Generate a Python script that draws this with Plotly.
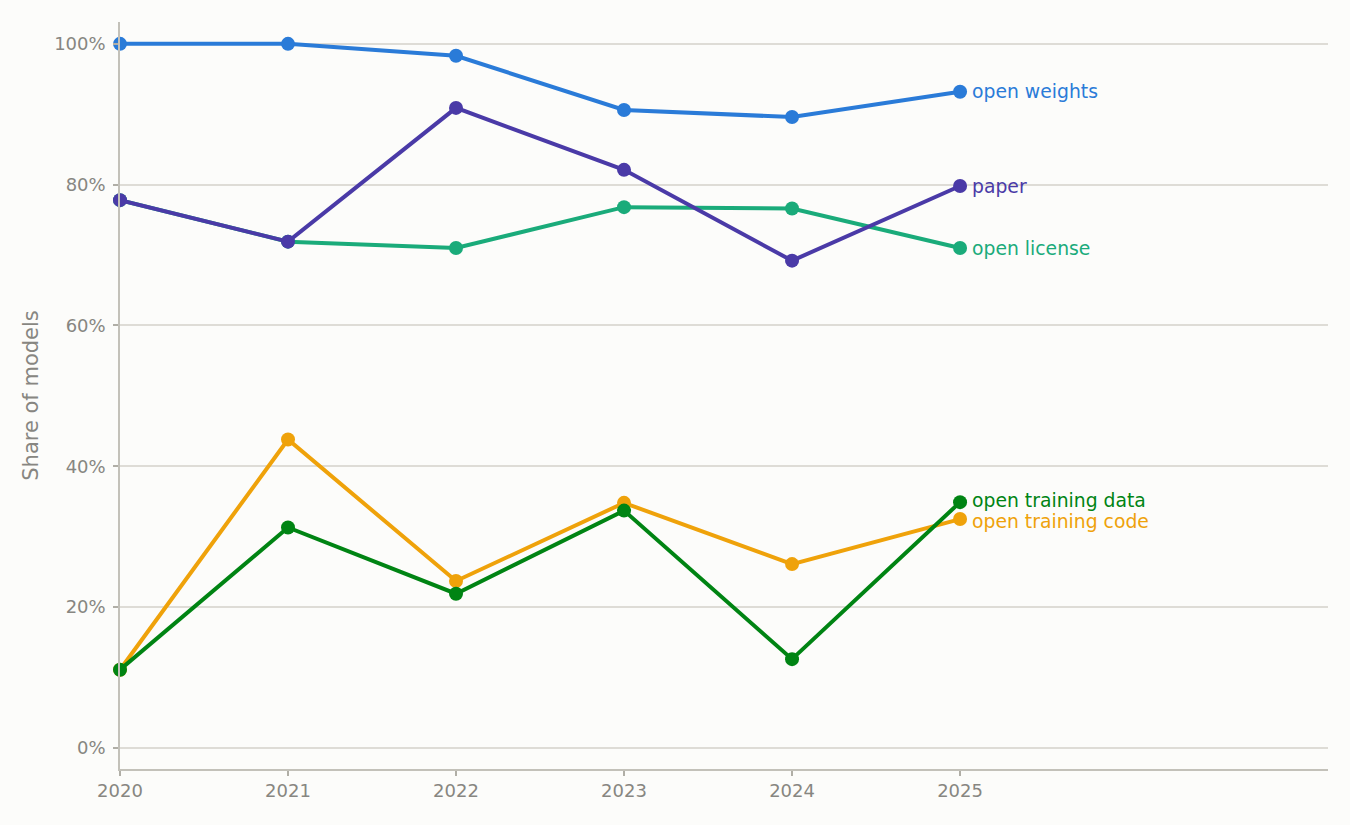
import plotly.graph_objects as go

years = [2020, 2021, 2022, 2023, 2024, 2025]
open_weights = [100.0, 100.0, 98.3, 90.6, 89.6, 93.2]
paper = [77.8, 71.9, 90.9, 82.1, 69.2, 79.8]
open_license = [77.8, 71.9, 71.0, 76.8, 76.6, 71.0]
open_training_code = [11.1, 43.8, 23.7, 34.8, 26.1, 32.5]
open_training_data = [11.1, 31.3, 21.9, 33.7, 12.6, 34.9]

series = [
    ("open weights", open_weights, "#2a7bd8", 0),
    ("open license", open_license, "#1aab7a", 0),
    ("paper", paper, "#4a3aa7", 0),
    ("open training code", open_training_code, "#efa20a", -2),
    ("open training data", open_training_data, "#008413", 2),
]

y_ticks = [0, 20, 40, 60, 80, 100]
y_tick_text = [f"{v}%" for v in y_ticks]

FONT = "DejaVu Sans"
fig = go.Figure()
for name, vals, color, ysh in series:
    fig.add_trace(go.Scatter(
        x=years, y=vals, mode="lines+markers", name=name,
        line=dict(color=color, width=4),
        marker=dict(color=color, size=14),
        cliponaxis=False, showlegend=False,
    ))
    fig.add_annotation(
        x=years[-1], y=vals[-1], text=name, showarrow=False,
        xanchor="left", yanchor="middle", xshift=10, yshift=ysh,
        font=dict(family=FONT, size=18.8, color=color),
    )

fig.update_layout(
    width=1350, height=825,
    margin=dict(l=120, r=22, t=22, b=56),
    paper_bgcolor="#fcfcfa", plot_bgcolor="#fcfcfa",
    font=dict(family=FONT, size=18, color="#878681"),
    xaxis=dict(
        range=[2020, 2027.19], tickvals=years, ticktext=[str(y) for y in years],
        showgrid=False, zeroline=False, showline=True, linecolor="#c3c1b9", linewidth=1.5,
        ticks="outside", ticklen=5, tickcolor="#b0aea6", tickwidth=1.5,
        tickfont=dict(family=FONT, size=18, color="#878681"),
    ),
    yaxis=dict(
        range=[-3, 103.1], tickvals=y_ticks, ticktext=y_tick_text,
        showgrid=True, gridcolor="#dedcd6", gridwidth=1.5, zeroline=False,
        showline=True, linecolor="#c3c1b9", linewidth=1.5,
        ticks="outside", ticklen=5, tickcolor="#b0aea6", tickwidth=1.5,
        ticklabelstandoff=4,
        tickfont=dict(family=FONT, size=18, color="#878681"),
        title=dict(text="Share of models", font=dict(family=FONT, size=21, color="#878681"), standoff=10),
    ),
)

fig.write_html("out.html")
